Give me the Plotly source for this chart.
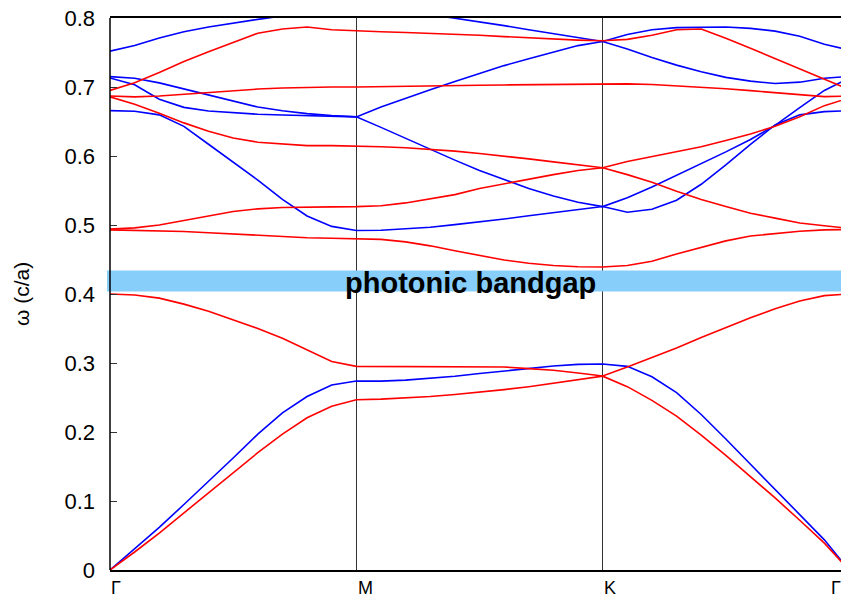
import plotly.graph_objects as go

# k-point index along Γ-M-K-Γ (10 interpolation steps per segment)
k_index = list(range(31))
k_labels = ["Γ", "M", "K", "Γ"]
k_label_index = [0, 10, 20, 30]
k_label_shift = [6, 9, 7, -13]

# TE bands (red)
te1 = [0, 0.0261, 0.0536, 0.083, 0.1125, 0.1414, 0.170, 0.197, 0.2206, 0.2372, 0.2467,
       0.2477, 0.2491, 0.2515, 0.2543, 0.2577, 0.2614, 0.2657, 0.2705, 0.2752, 0.2809,
       0.2657, 0.2458, 0.223, 0.1955, 0.166, 0.1352, 0.1044, 0.0721, 0.0389, 0.0]
te2 = [0.400, 0.3986, 0.394, 0.3853, 0.3749, 0.363, 0.3501, 0.336, 0.3189, 0.3023, 0.2951,
       0.2949, 0.2948, 0.2948, 0.2947, 0.2946, 0.2942, 0.2918, 0.2894, 0.2856, 0.2812,
       0.2942, 0.3075, 0.3217, 0.3369, 0.3512, 0.3654, 0.3786, 0.390, 0.3976, 0.400]
te3 = [0.493, 0.4925, 0.4916, 0.4906, 0.4887, 0.4868, 0.485, 0.483, 0.4816, 0.4807, 0.480,
       0.4792, 0.4755, 0.4698, 0.4626, 0.4555, 0.4493, 0.4446, 0.4413, 0.4394, 0.4392,
       0.4413, 0.4475, 0.458, 0.468, 0.477, 0.484, 0.488, 0.491, 0.493, 0.4935]
te4 = [0.494, 0.4959, 0.500, 0.506, 0.513, 0.5196, 0.5234, 0.5253, 0.5262, 0.5262, 0.5267,
       0.528, 0.532, 0.538, 0.544, 0.553, 0.560, 0.5666, 0.573, 0.579, 0.583,
       0.573, 0.562, 0.549, 0.537, 0.5267, 0.517, 0.510, 0.503, 0.499, 0.495]
te5 = [0.6857, 0.675, 0.662, 0.648, 0.636, 0.626, 0.620, 0.617, 0.615, 0.615, 0.6145,
       0.6135, 0.612, 0.6097, 0.607, 0.6036, 0.600, 0.5958, 0.5915, 0.587, 0.583,
       0.592, 0.599, 0.606, 0.6135, 0.6225, 0.632, 0.643, 0.657, 0.673, 0.684]
te6 = [0.687, 0.6857, 0.687, 0.6894, 0.6928, 0.6951, 0.697, 0.6985, 0.6994, 0.6999, 0.700,
       0.7007, 0.7012, 0.7017, 0.702, 0.7026, 0.703, 0.7035, 0.704, 0.7045, 0.705,
       0.7046, 0.7037, 0.7018, 0.6999, 0.6975, 0.6947, 0.6918, 0.689, 0.686, 0.687]
te7 = [0.695, 0.706, 0.721, 0.737, 0.751, 0.765, 0.778, 0.784, 0.787, 0.783, 0.781,
       0.780, 0.779, 0.778, 0.776, 0.775, 0.773, 0.771, 0.770, 0.768, 0.767,
       0.769, 0.775, 0.783, 0.784, 0.7706, 0.756, 0.741, 0.726, 0.711, 0.6966]

# TM bands (blue)
tm1 = [0, 0.0308, 0.0617, 0.0949, 0.128, 0.1623, 0.1969, 0.2278, 0.2515, 0.268, 0.2738,
       0.2738, 0.2752, 0.2776, 0.2809, 0.2847, 0.2885, 0.2923, 0.2956, 0.298, 0.2985,
       0.2951, 0.280, 0.2572, 0.2254, 0.1898, 0.1533, 0.1167, 0.0807, 0.0437, 0]
tm2 = [0.6657, 0.6648, 0.6596, 0.643, 0.617, 0.591, 0.565, 0.537, 0.513, 0.498, 0.492,
       0.4925, 0.4944, 0.4968, 0.5006, 0.5044, 0.5087, 0.5134, 0.5181, 0.5229, 0.5267,
       0.5186, 0.5229, 0.536, 0.559, 0.587, 0.617, 0.645, 0.6596, 0.6643, 0.6657]
tm3 = [0.713, 0.7032, 0.6823, 0.6705, 0.6652, 0.6624, 0.6605, 0.6595, 0.6586, 0.6576, 0.6567,
       0.6415, 0.6254, 0.6097, 0.594, 0.579, 0.5655, 0.553, 0.542, 0.533, 0.5267,
       0.5395, 0.555, 0.5718, 0.5884, 0.606, 0.624, 0.6444, 0.670, 0.695, 0.713]
tm4 = [0.7151, 0.7126, 0.706, 0.6975, 0.689, 0.680, 0.671, 0.6657, 0.6614, 0.6586, 0.6567,
       0.671, 0.684, 0.696, 0.708, 0.720, 0.731, 0.741, 0.751, 0.760, 0.766,
       0.755, 0.7426, 0.7317, 0.7222, 0.714, 0.7085, 0.705, 0.707, 0.7127, 0.7155]
tm5 = [0.752, 0.760, 0.771, 0.780, 0.787, 0.793, 0.798, 0.803, 0.807, 0.810, 0.812,
       0.811, 0.809, 0.805, 0.800, 0.794, 0.789, 0.783, 0.777, 0.7715, 0.766,
       0.776, 0.783, 0.786, 0.787, 0.787, 0.785, 0.781, 0.7735, 0.762, 0.7535]

te_bands = [te1, te2, te3, te4, te5, te6, te7]
tm_bands = [tm1, tm2, tm3, tm4, tm5]

gap_low = 0.4035
gap_high = 0.434
gap_text = "photonic bandgap"
gap_text_x = 14.65

y_ticks = [0, 0.1, 0.2, 0.3, 0.4, 0.5, 0.6, 0.7, 0.8]
y_tick_text = ["0", "0.1", "0.2", "0.3", "0.4", "0.5", "0.6", "0.7", "0.8"]

FONT = "Liberation Sans, Arial, sans-serif"

# the page body has an 8px margin: size the figure so it ends at the window edge
PAGE_W, PAGE_H, BODY_MARGIN = 849, 605, 8
FIG_W = PAGE_W - BODY_MARGIN
FIG_H = PAGE_H - 2 * BODY_MARGIN

fig = go.Figure()
for band in tm_bands:
    fig.add_trace(go.Scatter(x=k_index, y=band, mode="lines",
                             line=dict(color="#0000ff", width=1.6),
                             showlegend=False, hoverinfo="skip"))
for band in te_bands:
    fig.add_trace(go.Scatter(x=k_index, y=band, mode="lines",
                             line=dict(color="#ff0000", width=1.6),
                             showlegend=False, hoverinfo="skip"))

shapes = [
    dict(type="rect", xref="paper", yref="y", x0=-0.004, x1=1, y0=gap_low, y1=gap_high,
         fillcolor="#87cefa", line=dict(width=0), layer="above"),
    dict(type="line", xref="paper", yref="paper", x0=0, x1=0, y0=0, y1=1,
         line=dict(color="black", width=1.5)),
]

annotations = [
    dict(x=gap_text_x, y=(gap_low + gap_high) / 2, xref="x", yref="y", text="<b>%s</b>" % gap_text,
         xanchor="center", showarrow=False, font=dict(family=FONT, size=29, color="black"), yshift=-2),
    dict(x=0, y=0.5, xref="paper", yref="paper", text="ω (c/a)", textangle=-90,
         xanchor="center", yanchor="middle",
         showarrow=False, font=dict(family=FONT, size=21, color="black"), xshift=-89),
]
for lab, idx, sh in zip(k_labels, k_label_index, k_label_shift):
    annotations.append(dict(x=idx, y=0, xref="x", yref="paper", text=lab, showarrow=False,
                            xanchor="center", yanchor="top", yshift=-6, xshift=sh,
                            font=dict(family=FONT, size=18, color="black")))

fig.update_layout(
    width=FIG_W, height=FIG_H, autosize=False,
    margin=dict(l=102, r=0, t=10, b=27, autoexpand=False),
    paper_bgcolor="white", plot_bgcolor="white",
    shapes=shapes, annotations=annotations,
    xaxis=dict(range=[0, 30], tickvals=[10, 20], showticklabels=False, ticks="",
               showgrid=True, gridcolor="#333333", gridwidth=1, zeroline=False,
               showline=True, linecolor="black", linewidth=1.5, mirror=True,
               automargin=False),
    yaxis=dict(range=[0, 0.8], tickvals=y_ticks, ticktext=y_tick_text,
               ticks="inside", ticklen=7, tickcolor="#333333", tickwidth=1.2,
               mirror="ticks", showline=False, showgrid=False, zeroline=False,
               ticklabelstandoff=14, ticklabeloverflow="allow", automargin=False,
               tickfont=dict(family=FONT, size=22, color="black")),
)

fig.write_html("out.html")
